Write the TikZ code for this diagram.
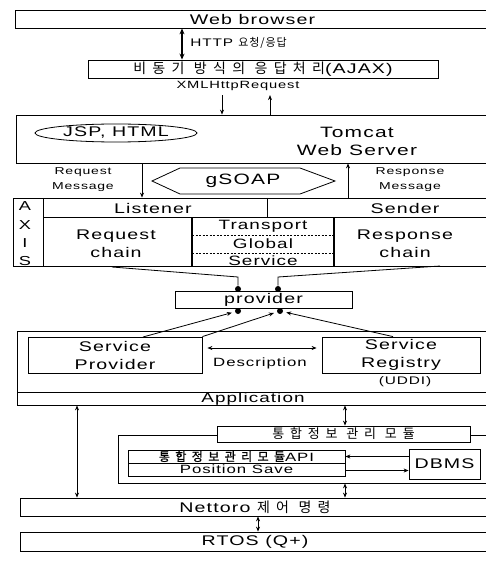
\documentclass[tikz,border=0pt]{standalone}
\usepackage{fontspec}
\setmainfont{Liberation Sans}[FakeStretch=1.4,LetterSpace=8]
\newfontfamily\kr{Noto Sans CJK KR}[LetterSpace=45]
\newfontfamily\krtight{Noto Sans CJK KR}[LetterSpace=8]
\newfontfamily\krbold{Noto Sans CJK KR}[LetterSpace=45,FakeBold=1.2]
\usetikzlibrary{arrows.meta, shapes.geometric}

\tikzset{
  layer/.style={draw, line width=0.8pt, fill=white, inner sep=0pt, align=center,
    font=\fontsize{14}{18}\selectfont},
  tag/.style={inner sep=0pt, align=center, font=\fontsize{10}{15}\selectfont},
  flow/.style={line width=0.8pt, -{Stealth[length=5pt,width=4pt]}},
  twoway/.style={line width=0.8pt, {Stealth[length=5pt,width=4pt]}-{Stealth[length=5pt,width=4pt]}},
  joint/.style={circle, fill, inner sep=0pt, minimum size=6pt},
}

\begin{document}
\begin{tikzpicture}[x=1pt, y=-1pt, line width=0.8pt]

	\path[use as bounding box, clip] (0,0) rectangle (486,561);

	% Browser and AJAX
	\node[layer, minimum width=475pt, minimum height=18pt] (web) at (252.5,19) {Web browser};
	\node[layer, minimum width=350pt, minimum height=18pt] (ajax) at (263,69) {{\kr 비동기 방식의 응답처리}(AJAX)};
	\node[tag, anchor=west, font=\fontsize{11}{13}\selectfont] (http) at (190,43) {HTTP {\krtight 요청/응답}};
	\node[tag, font=\fontsize{10.5}{13}\selectfont] (xml) at (238,86) {XMLHttpRequest};
	\coordinate (httpx) at (182,0);
	\coordinate (xmldown) at (222,0);
	\coordinate (xmlup) at (270,0);
	\draw[line width=1.3pt, {Stealth[length=6pt,width=5pt]}-{Stealth[length=6pt,width=5pt]}]
	(web.south -| httpx) -- (ajax.north -| httpx);

	% Tomcat web server
	\node[layer, minimum width=474pt, minimum height=48pt] (tomcat) at (253,139) {};
	\node[draw, ellipse, inner sep=0pt, minimum width=162pt, minimum height=18pt,
	font=\fontsize{14}{18}\selectfont] (jsp) at (116,133) {JSP, HTML};
	\node[tag, font=\fontsize{15}{18}\selectfont] (tomlbl) at (357,141) {Tomcat\\Web Server};
	\draw[flow] (xml.south -| xmldown) ++(0,4) -- (tomcat.north -| xmldown);
	\draw[flow] (tomcat.north -| xmlup) -- ([yshift=-4pt]xml.south -| xmlup);

	% gSOAP between server and AXIS
	\draw (152,181) -- (180,168) -- (300,168) -- (335,181) -- (300,194) -- (180,194) -- cycle;
	\node[tag, font=\fontsize{15}{18}\selectfont] (gsoap) at (243,181) {gSOAP};
	\node[tag] (reqmsg) at (83,180) {Request\\Message};
	\node[tag] (respmsg) at (410,180) {Response\\Message};

	% AXIS
	\node[layer, minimum width=477pt, minimum height=68pt] (axis) at (251.5,232) {};
	\coordinate (reqx) at (142,0);
	\coordinate (respx) at (348,0);
	\draw[flow] (tomcat.south -| reqx) -- (axis.north -| reqx);
	\draw[flow] (axis.north -| respx) -- (tomcat.south -| respx);
	\draw (43,198) -- (43,266);
	\draw (43,217) -- (490,217);
	\draw (267,198) -- (267,217);
	\draw[line width=1.6pt] (192,217) -- (192,266);
	\draw[line width=1.6pt] (334,217) -- (334,266);
	\draw[dash pattern=on 2pt off 1.5pt] (192,235) -- (334,235);
	\draw[dash pattern=on 2pt off 1.5pt] (192,253) -- (334,253);
	\foreach \ch/\yy in {A/206, X/225, I/243, S/261}
	\node[tag, font=\fontsize{13}{15}\selectfont] at (25,\yy) {\ch};
	\node[tag, font=\fontsize{14}{18}\selectfont] (listener) at (153,208) {Listener};
	\node[tag, font=\fontsize{14}{18}\selectfont] (sender) at (405,208) {Sender};
	\node[tag, font=\fontsize{14}{18}\selectfont] (reqchain) at (116,244) {Request\\chain};
	\node[tag, font=\fontsize{14}{18}\selectfont] (respchain) at (405,244) {Response\\chain};
	\node[tag, font=\fontsize{13.5}{18}\selectfont] (transport) at (263,226) {Transport};
	\node[tag, font=\fontsize{13.5}{18}\selectfont] (global) at (263,244) {Global};
	\node[tag, font=\fontsize{13.5}{18}\selectfont] (service) at (263,261) {Service};

	% provider
	\node[layer, minimum width=177pt, minimum height=17pt] (provider) at (263.5,299.5) {provider};
	\node[joint] (jointA) at (238,289) {};
	\node[joint] (jointB) at (278,289) {};
	\coordinate (reqtail) at (112,267);
	\coordinate (reqbend) at (238,277);
	\coordinate (resptail) at (440,266);
	\coordinate (respbend) at (278,277);
	\draw (reqtail) -- (reqbend) -- (jointA);
	\draw (resptail) -- (respbend) -- (jointB);

	% Application
	\node[layer, minimum width=473pt, minimum height=74pt] (app) at (253.5,368) {};
	\draw (17,392) -- (490,392);
	\node[tag, font=\fontsize{13.5}{18}\selectfont] (applbl) at (253,399) {Application};
	\node[layer, minimum width=174pt, minimum height=36pt] (sp) at (115,355) {Service\\Provider};
	\node[layer, minimum width=158pt, minimum height=36pt] (sr) at (401,355) {Service\\Registry};
	\node[tag, font=\fontsize{11}{13}\selectfont] (uddi) at (405,382) {(UDDI)};
	\draw[twoway, shorten <=5pt, shorten >=5pt] ([yshift=7pt]sp.east) -- ([yshift=7pt]sr.west);
	\node[tag, font=\fontsize{12}{14}\selectfont] (desc) at (260,363) {Description};
	\node[joint] (jointC) at (238,311) {};
	\node[joint] (jointD) at (280,311) {};
	\coordinate (sptail) at (143,337);
	\draw[flow, shorten >=3pt] (sptail) -- (jointC);
	\draw[flow, shorten >=3pt] (sp.north east) -- (jointD);
	\draw[flow, shorten >=3pt] ([xshift=-8pt]sr.north) -- (jointD);

	% integrated information module
	\node[layer, minimum width=372pt, minimum height=48pt] (modreg) at (304,459) {};
	\node[layer, minimum width=253pt, minimum height=16pt, font=\fontsize{13}{16}\selectfont]
	(module) at (343.5,434) {{\kr 통합정보 관리 모듈}};
	\node[layer, minimum width=217pt, minimum height=13pt, font=\fontsize{12}{14}\selectfont]
	(api) at (236.5,456.5) {{\krbold 통합정보관리모듈}API};
	\node[layer, minimum width=217pt, minimum height=13pt, font=\fontsize{12}{14}\selectfont]
	(pos) at (236.5,469.5) {Position Save};
	\node[layer, minimum width=71pt, minimum height=30pt] (dbms) at (444.5,464) {DBMS};
	\draw[flow] (dbms.west |- api.east) -- (api.east);
	\draw[flow] ([yshift=-1pt]pos.east) -- ([yshift=-1pt]dbms.west |- pos.east);

	% Nettoro and RTOS
	\node[layer, minimum width=470pt, minimum height=18pt] (nettoro) at (255,507) {Nettoro {\kr 제어 명령}};
	\node[layer, minimum width=470pt, minimum height=19pt] (rtos) at (255,541.5) {RTOS (Q+)};
	\coordinate (leftx) at (77,0);
	\coordinate (modx) at (345,0);
	\coordinate (osx) at (258,0);
	\draw[twoway] (app.south -| leftx) -- (nettoro.north -| leftx);
	\draw[twoway] (app.south -| modx) -- (module.north -| modx);
	\draw[twoway] (modreg.south -| modx) -- (nettoro.north -| modx);
	\draw[twoway] (nettoro.south -| osx) -- (rtos.north -| osx);

\end{tikzpicture}
\end{document}
